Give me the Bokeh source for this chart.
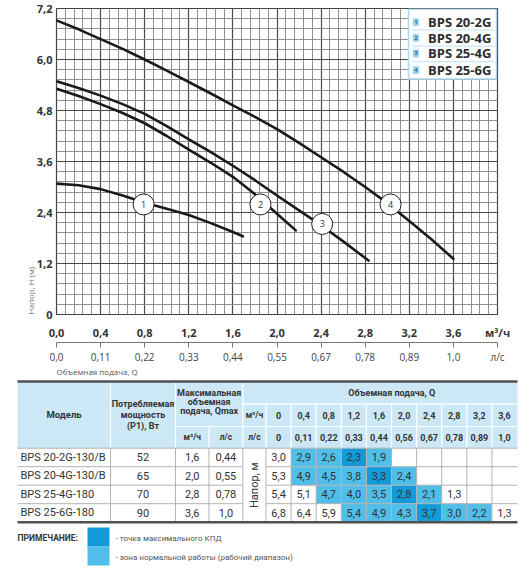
import math
from bokeh.plotting import figure
from bokeh.models import FixedTicker, LinearAxis, Range1d, Title
from bokeh.embed import file_html
from bokeh.resources import INLINE
from bokeh.core.properties import value

FONT = "Open Sans"
TFONT = "Roboto"

# ---------------- chart data ----------------
q_ticks = [0.0, 0.4, 0.8, 1.2, 1.6, 2.0, 2.4, 2.8, 3.2, 3.6, 4.0]
q_tick_labels = ["0,0", "0,4", "0,8", "1,2", "1,6", "2,0", "2,4", "2,8", "3,2", "3,6", "м³/ч"]
ls_tick_labels = ["0,0", "0,11", "0,22", "0,33", "0,44", "0,55", "0,67", "0,78", "0,89", "1,0", "л/с"]
h_ticks = [0.0, 1.2, 2.4, 3.6, 4.8, 6.0, 7.2]
h_tick_labels = ["0", "1,2", "2,4", "3,6", "4,8", "6,0", "7,2"]

curve1_q = [0.0, 0.2, 0.4, 0.6, 0.8, 1.0, 1.2, 1.4, 1.6, 1.69]
curve1_h = [3.08, 3.04, 2.95, 2.80, 2.63, 2.49, 2.34, 2.15, 1.94, 1.84]
curve2_q = [0.0, 0.2, 0.4, 0.6, 0.8, 1.0, 1.2, 1.4, 1.6, 1.8, 2.0, 2.17]
curve2_h = [5.31, 5.14, 4.95, 4.74, 4.50, 4.20, 3.88, 3.57, 3.24, 2.83, 2.37, 1.98]
curve3_q = [0.0, 0.2, 0.4, 0.6, 0.8, 1.0, 1.2, 1.4, 1.6, 1.8, 2.0, 2.2, 2.4, 2.6, 2.83]
curve3_h = [5.49, 5.33, 5.15, 4.95, 4.72, 4.43, 4.12, 3.82, 3.50, 3.16, 2.80, 2.45, 2.10, 1.72, 1.27]
curve4_q = [0.0, 0.2, 0.4, 0.6, 0.8, 1.0, 1.2, 1.4, 1.6, 1.8, 2.0, 2.2, 2.4, 2.6, 2.8, 3.0, 3.2, 3.4, 3.6]
curve4_h = [6.92, 6.71, 6.48, 6.25, 6.00, 5.74, 5.47, 5.20, 4.92, 4.65, 4.36, 4.04, 3.70, 3.36,
            3.00, 2.62, 2.20, 1.77, 1.31]

marker_q = [0.79, 1.85, 2.41, 3.03]
marker_h = [2.59, 2.59, 2.13, 2.59]
marker_txt = ["1", "2", "3", "4"]
legend_names = ["BPS 20-2G", "BPS 20-4G", "BPS 25-4G", "BPS 25-6G"]

# ---------------- table data ----------------
models = ["BPS 20-2G-130/B", "BPS 20-4G-130/B", "BPS 25-4G-180", "BPS 25-6G-180"]
power_w = [52, 65, 70, 90]
qmax_m3h = [1.6, 2.0, 2.8, 3.6]
qmax_ls = ["0,44", "0,55", "0,78", "1,0"]
table_q_m3h = ["0", "0,4", "0,8", "1,2", "1,6", "2,0", "2,4", "2,8", "3,2", "3,6"]
table_q_ls = ["0", "0,11", "0,22", "0,33", "0,44", "0,56", "0,67", "0,78", "0,89", "1,0"]
head_20_2g = [3.0, 2.9, 2.6, 2.3, 1.9]
head_20_4g = [5.3, 4.9, 4.5, 3.8, 3.3, 2.4]
head_25_4g = [5.4, 5.1, 4.7, 4.0, 3.5, 2.8, 2.1, 1.3]
head_25_6g = [6.8, 6.4, 5.9, 5.4, 4.9, 4.3, 3.7, 3.0, 2.2, 1.3]
# 0 = plain, 1 = normal working zone, 2 = max efficiency point
zone_20_2g = [0, 1, 1, 2, 1]
zone_20_4g = [0, 1, 1, 1, 2, 1]
zone_25_4g = [0, 0, 1, 1, 1, 2, 1, 0]
zone_25_6g = [0, 0, 0, 1, 1, 1, 2, 1, 1, 0]

heads = [head_20_2g, head_20_4g, head_25_4g, head_25_6g]
zones = [zone_20_2g, zone_20_4g, zone_25_4g, zone_25_6g]


def fmt(v):
    return f"{v:.1f}".replace(".", ",")


# ---------------- chart ----------------
FW, FH = 441, 313  # frame size in px
CH = 366           # chart canvas height
p = figure(width=531, height=CH, x_range=Range1d(0, 4.0), y_range=Range1d(0, 7.2),
           output_backend="svg", toolbar_location=None,
           min_border_left=56, min_border_right=34, min_border_top=8,
           min_border_bottom=CH - 8 - FH)
p.background_fill_color = "white"
p.outline_line_color = "#444444"
p.outline_line_width = 1.2

p.xgrid.ticker = FixedTicker(ticks=q_ticks, minor_ticks=[round(0.08 * i, 2) for i in range(51)])
p.ygrid.ticker = FixedTicker(ticks=h_ticks, minor_ticks=[round(0.24 * i, 2) for i in range(31)])
for g in (p.xgrid, p.ygrid):
    g.grid_line_color = "#4a4a4a"
    g.grid_line_width = 1.2
    g.minor_grid_line_color = "#858585"
    g.minor_grid_line_width = 0.9

xa = p.xaxis[0]
xa.ticker = FixedTicker(ticks=q_ticks)
xa.major_label_overrides = dict(zip(q_ticks, q_tick_labels))
xa.axis_line_color = None
xa.major_tick_line_color = None
xa.major_tick_out = 0
xa.major_tick_in = 0
xa.minor_tick_line_color = None
xa.minor_tick_out = 0
xa.major_label_standoff = 10
xa.major_label_text_font = FONT
xa.major_label_text_font_style = "bold"
xa.major_label_text_font_size = "11px"
xa.major_label_text_color = "#333333"

xa2 = LinearAxis(ticker=FixedTicker(ticks=q_ticks),
                 major_label_overrides=dict(zip(q_ticks, ls_tick_labels)))
xa2.axis_line_color = "#777777"
xa2.axis_line_width = 1.2
xa2.major_tick_line_color = "#777777"
xa2.major_tick_out = 5
xa2.major_tick_in = 0
xa2.minor_tick_line_color = None
xa2.major_label_standoff = 2
xa2.major_label_text_font = FONT
xa2.major_label_text_font_size = "10px"
xa2.major_label_text_color = "#444444"
p.add_layout(xa2, "below")

ya = p.yaxis[0]
ya.ticker = FixedTicker(ticks=h_ticks)
ya.major_label_overrides = dict(zip(h_ticks, h_tick_labels))
ya.axis_line_color = None
ya.major_tick_line_color = None
ya.major_tick_out = 0
ya.major_tick_in = 0
ya.minor_tick_line_color = None
ya.minor_tick_out = 0
ya.major_label_standoff = 4
ya.major_label_text_font = FONT
ya.major_label_text_font_style = "bold"
ya.major_label_text_font_size = "11px"
ya.major_label_text_color = "#333333"

ytitle = Title(text="Напор, H (м)", align="left", standoff=0,
               text_font=FONT, text_font_size="8px", text_font_style="normal",
               text_color="#777777")
try:
    ytitle.standoff = -4
except Exception:
    pass
p.add_layout(ytitle, "left")

for cq, ch in [(curve1_q, curve1_h), (curve2_q, curve2_h), (curve3_q, curve3_h), (curve4_q, curve4_h)]:
    p.line(cq, ch, line_width=2.6, line_color="#1a1a1a", line_cap="round", line_join="round")

p.scatter(marker_q, marker_h, marker="circle", size=21, fill_color="white",
          line_color="#222222", line_width=1)
p.text(marker_q, marker_h, text=marker_txt, text_align="center", text_baseline="middle",
       text_font=value(FONT), text_font_size="9px", text_color="#333333")


def cx(px):  # px offset from frame left -> data x
    return px / FW * 4.0


def cy(py):  # px offset from frame top -> data y
    return 7.2 - py / FH * 7.2


# legend box (custom)
p.quad(left=[cx(352)], right=[cx(440)], top=[cy(0.5)], bottom=[cy(72)],
       fill_color="white", line_color="#a9d9ef", line_width=1.5)
leg_off = [14, 30, 46, 63]
sep_off = [22, 38.5, 54.5]
p.segment(x0=[cx(356)] * 3, y0=[cy(o) for o in sep_off], x1=[cx(438)] * 3, y1=[cy(o) for o in sep_off],
          line_color="#b9e1f3", line_width=1)
p.rect(x=[cx(359.5)] * 4, y=[cy(o) for o in leg_off], width=cx(6), height=8 / FH * 7.2,
       fill_color="#9bd3ee", line_color=None)
p.text(x=[cx(359.5)] * 4, y=[cy(o) for o in leg_off], text=marker_txt, text_align="center",
       text_baseline="middle", text_font=value(FONT), text_font_size="6px",
       text_font_style="bold", text_color="#2b6e99")
p.text(x=[cx(371.5)] * 4, y=[cy(o) for o in leg_off], text=legend_names, text_align="left",
       text_baseline="middle", text_font=value(FONT), text_font_size="13px",
       text_font_style="bold", text_color="#2d2d2d")

# ---------------- table (page pixel coordinates) ----------------
t = figure(width=531, height=570 - CH, x_range=Range1d(0, 531), y_range=Range1d(570, CH),
           output_backend="svg", toolbar_location=None, min_border=0,
           x_axis_type=None, y_axis_type=None)
t.grid.visible = False
t.outline_line_color = None

HEADER = "#cce8f7"
LIGHT = "#4fbfea"
DARK = "#139bd9"
TXT = "#333333"

L, R = 17, 517
col_model, col_pow, col_qm, col_ql, col_lab = 17, 110, 175, 208.5, 242.3
q0, qw = 265.5, 25.1
q_edges = [q0 + qw * i for i in range(11)]
q_cent = [q0 + qw * (i + 0.5) for i in range(10)]
h_top, h1, h2, h_bot = 381, 403.7, 426, 447.7
rh = 18.5
r_edges = [h_bot + rh * i for i in range(5)]
r_cent = [h_bot + rh * (i + 0.5) for i in range(4)]


def txt(xs, ys, texts, size, bold=False, align="center", color=TXT, angle=0.0, font=TFONT):
    t.text(xs, ys, text=texts, text_align=align, text_baseline="middle", angle=angle,
           text_font=value(font), text_font_size=size,
           text_font_style="bold" if bold else "normal", text_color=color)


# x-axis caption of the chart (sits just below the chart's second axis)
txt([56], [371], ["Объемная подача, Q"], "8px", align="left", color="#555555", font=FONT)

# header background
t.quad(left=[L], right=[R], top=[h_top], bottom=[h_bot], fill_color=HEADER, line_color=None)

# colored cells
cl, cr, ct, cb, cc = [], [], [], [], []
for ri, zrow in enumerate(zones):
    for ci, z in enumerate(zrow):
        if z:
            cl.append(q_edges[ci]); cr.append(q_edges[ci + 1])
            ct.append(r_edges[ri]); cb.append(r_edges[ri + 1])
            cc.append(DARK if z == 2 else LIGHT)
t.quad(left=cl, right=cr, top=ct, bottom=cb, fill_color=cc, line_color=None)

# header separators
hx0, hy0, hx1, hy1 = [], [], [], []
for x in [col_pow, col_qm, col_lab]:
    hx0.append(x); hy0.append(h_top); hx1.append(x); hy1.append(h_bot)
hx0 += [col_ql, q_edges[0]]; hy0 += [h2, h1]; hx1 += [col_ql, q_edges[0]]; hy1 += [h_bot, h_bot]
for x in q_edges[1:-1]:
    hx0.append(x); hy0.append(h1); hx1.append(x); hy1.append(h_bot)
hx0 += [col_qm, col_lab, col_lab]; hy0 += [h2, h1, h2]
hx1 += [col_lab, R, R]; hy1 += [h2, h1, h2]
t.segment(hx0, hy0, hx1, hy1, line_color="#ffffff", line_width=1.2)

# body separators
bx0, by0, bx1, by1 = [], [], [], []
for x in [col_pow, col_qm, col_ql, col_lab] + q_edges[:-1]:
    bx0.append(x); by0.append(h_bot); bx1.append(x); by1.append(r_edges[-1])
for y in r_edges[1:-1]:
    bx0 += [L, q_edges[0]]; by0 += [y, y]; bx1 += [col_lab, R]; by1 += [y, y]
bx0.append(L); by0.append(h_bot); bx1.append(R); by1.append(h_bot)
t.segment(bx0, by0, bx1, by1, line_color="#b3b3b3", line_width=1)

# thick top/bottom rules
t.segment([L, L], [h_top, r_edges[-1]], [R, R], [h_top, r_edges[-1]], line_color="#505050", line_width=2.6)

# header texts
txt([(col_model + col_pow) / 2], [(h_top + h_bot) / 2], ["Модель"], "9.5px", bold=True)
txt([(col_pow + col_qm) / 2] * 3, [403.5, 414.5, 425.5], ["Потребляемая", "мощность", "(P1), Вт"], "9px", bold=True)
txt([(col_qm + col_lab) / 2] * 3, [392.5, 401.5, 410.5], ["Максимальная", "объемная", "подача, Qmax"], "9px", bold=True)
txt([(col_qm + col_ql) / 2, (col_ql + col_lab) / 2], [(h2 + h_bot) / 2] * 2, ["м³/ч", "л/с"], "8.5px", bold=True)
txt([(col_lab + q_edges[0]) / 2] * 2, [(h1 + h2) / 2, (h2 + h_bot) / 2], ["м³/ч", "л/с"], "8.5px", bold=True)
txt([(q_edges[0] + R) / 2], [(h_top + h1) / 2], ["Объемная подача, Q"], "9px", bold=True)
txt(q_cent, [(h1 + h2) / 2] * 10, table_q_m3h, "9px", bold=True)
txt(q_cent, [(h2 + h_bot) / 2] * 10, table_q_ls, "9px", bold=True)

# body texts
txt([col_model + 3] * 4, r_cent, models, "11px", align="left")
txt([(col_pow + col_qm) / 2] * 4, r_cent, [str(v) for v in power_w], "11px")
txt([(col_qm + col_ql) / 2] * 4, r_cent, [fmt(v) for v in qmax_m3h], "11px")
txt([(col_ql + col_lab) / 2] * 4, r_cent, qmax_ls, "11px")
txt([(col_lab + q_edges[0]) / 2], [(h_bot + r_edges[-1]) / 2], ["Напор, м"], "11px", angle=math.pi / 2)
vx, vy, vt = [], [], []
for ri, row in enumerate(heads):
    for ci, v in enumerate(row):
        vx.append(q_cent[ci]); vy.append(r_cent[ri]); vt.append(fmt(v))
txt(vx, vy, vt, "11px")

# notes
txt([17], [537], ["ПРИМЕЧАНИЕ:"], "8.5px", bold=True, align="left")
t.quad(left=[87, 87], right=[109, 109], top=[527, 546], bottom=[546, 565],
       fill_color=[DARK, LIGHT], line_color=None)
txt([115, 115], [538, 556.5], ["- точка максимального КПД", "- зона нормальной работы (рабочий диапазон)"],
    "8px", align="left", color="#555555")

open("out.html", "w").write(file_html([p, t], INLINE))
